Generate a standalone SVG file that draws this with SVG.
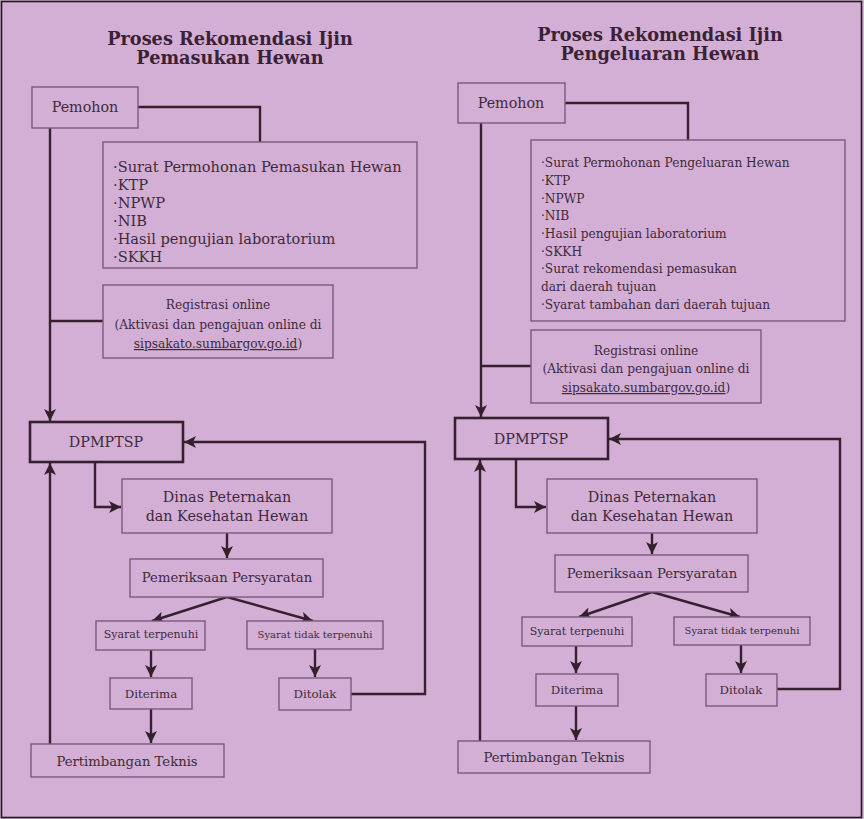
<svg xmlns="http://www.w3.org/2000/svg" width="864" height="819" viewBox="0 0 864 819">
<defs>
<marker id="ah" markerUnits="userSpaceOnUse" markerWidth="14" markerHeight="14" refX="12" refY="6" orient="auto">
<path d="M0,0 L12,6 L0,12 L3,6 z" fill="#33202d"/>
</marker>
<style>
.bg{fill:#d4afd5;}
.frame{fill:none;stroke:#1e1a1e;stroke-width:1.6;}
.box{fill:#d4afd5;stroke:#7a5a78;stroke-width:1.4;}
.boxb{fill:#d4afd5;stroke:#35202f;stroke-width:2.6;}
.ln{fill:none;stroke:#35202f;stroke-width:2.4;}
.ar{fill:none;stroke:#35202f;stroke-width:2.4;marker-end:url(#ah);}
text{font-family:"DejaVu Serif","Liberation Serif",serif;fill:#3d2a3b;}
.t{font-weight:bold;font-size:17.7px;text-anchor:middle;fill:#3a2236;}
.c{text-anchor:middle;}
.m{font-size:14.3px;}
.p{font-size:13.2px;}
.s{font-size:11px;}
.s2{font-size:10px;}
.r{font-size:12.2px;}
.d{font-size:11.8px;}
.l{font-size:14.6px;}
</style>
</defs>
<rect class="bg" x="0" y="0" width="864" height="819"/>
<rect class="frame" x="1.5" y="1.5" width="860" height="816"/>

<g id="title-left">
<text class="t" x="230" y="45">Proses Rekomendasi Ijin</text>
<text class="t" x="230" y="64">Pemasukan Hewan</text>
</g>
<g id="title-right">
<text class="t" x="660" y="41">Proses Rekomendasi Ijin</text>
<text class="t" x="660" y="60">Pengeluaran Hewan</text>
</g>

<g id="connectors">
<!-- left -->
<polyline class="ln" points="138,107 260,107 260,142"/>
<line class="ar" x1="50" y1="128" x2="50" y2="421"/>
<line class="ln" x1="50" y1="321" x2="103" y2="321"/>
<polyline class="ar" points="95,462 95,507 121,507"/>
<line class="ar" x1="227" y1="533" x2="227" y2="558"/>
<line class="ar" x1="227" y1="597" x2="152" y2="621"/>
<line class="ar" x1="227" y1="597" x2="313" y2="621"/>
<line class="ar" x1="151" y1="650" x2="151" y2="677"/>
<line class="ar" x1="315" y1="649" x2="315" y2="677"/>
<line class="ar" x1="151" y1="709" x2="151" y2="743"/>
<line class="ar" x1="50" y1="744" x2="50" y2="463"/>
<polyline class="ar" points="351,694 425,694 425,442 184,442"/>
<!-- right -->
<polyline class="ln" points="565,103 688,103 688,140"/>
<line class="ar" x1="481" y1="123" x2="481" y2="417"/>
<line class="ln" x1="481" y1="366" x2="531" y2="366"/>
<polyline class="ar" points="516,459 516,507 546,507"/>
<line class="ar" x1="652" y1="533" x2="652" y2="554"/>
<line class="ar" x1="652" y1="592" x2="579" y2="617"/>
<line class="ar" x1="652" y1="592" x2="740" y2="617"/>
<line class="ar" x1="576" y1="646" x2="576" y2="673"/>
<line class="ar" x1="741" y1="645" x2="741" y2="673"/>
<line class="ar" x1="576" y1="706" x2="576" y2="740"/>
<line class="ar" x1="480" y1="741" x2="480" y2="460"/>
<polyline class="ar" points="777,689 840,689 840,439 609,439"/>
</g>

<!-- left nodes -->
<g id="l-pemohon"><rect class="box" x="32" y="87" width="106" height="41"/><text class="c m" x="85" y="112">Pemohon</text></g>
<g id="l-syarat"><rect class="box" x="103" y="142" width="314" height="126"/>
<text class="l" x="113" y="172">·Surat Permohonan Pemasukan Hewan</text>
<text class="l" x="113" y="190">·KTP</text>
<text class="l" x="113" y="208">·NPWP</text>
<text class="l" x="113" y="226">·NIB</text>
<text class="l" x="113" y="244">·Hasil pengujian laboratorium</text>
<text class="l" x="113" y="262">·SKKH</text>
</g>
<g id="l-registrasi"><rect class="box" x="103" y="285" width="230" height="73"/>
<text class="c r" x="218" y="309">Registrasi online</text>
<text class="c r" x="218" y="329">(Aktivasi dan pengajuan online di</text>
<text class="c r" x="218" y="348"><tspan text-decoration="underline">sipsakato.sumbargov.go.id</tspan>)</text>
</g>
<g id="l-dpmptsp"><rect class="boxb" x="30" y="422" width="153" height="40"/><text class="c m" x="106" y="447">DPMPTSP</text></g>
<g id="l-dinas"><rect class="box" x="122" y="479" width="210" height="54"/>
<text class="c m" x="227" y="502">Dinas Peternakan</text>
<text class="c m" x="227" y="521">dan Kesehatan Hewan</text></g>
<g id="l-pemeriksaan"><rect class="box" x="130" y="559" width="193" height="38"/><text class="c p" x="227" y="582">Pemeriksaan Persyaratan</text></g>
<g id="l-terpenuhi"><rect class="box" x="96" y="621" width="109" height="29"/><text class="c s" x="151" y="638">Syarat terpenuhi</text></g>
<g id="l-tidak"><rect class="box" x="247" y="621" width="136" height="28"/><text class="c s2" x="315" y="638">Syarat tidak terpenuhi</text></g>
<g id="l-diterima"><rect class="box" x="110" y="678" width="82" height="31"/><text class="c d" x="151" y="698">Diterima</text></g>
<g id="l-ditolak"><rect class="box" x="279" y="678" width="72" height="32"/><text class="c d" x="315" y="698">Ditolak</text></g>
<g id="l-pertimbangan"><rect class="box" x="31" y="744" width="193" height="33"/><text class="c p" x="127" y="766">Pertimbangan Teknis</text></g>

<!-- right nodes -->
<g id="r-pemohon"><rect class="box" x="458" y="83" width="107" height="40"/><text class="c m" x="511" y="108">Pemohon</text></g>
<g id="r-syarat"><rect class="box" x="531" y="140" width="314" height="181"/>
<text class="r" x="541" y="167">·Surat Permohonan Pengeluaran Hewan</text>
<text class="r" x="541" y="185">·KTP</text>
<text class="r" x="541" y="203">·NPWP</text>
<text class="r" x="541" y="220">·NIB</text>
<text class="r" x="541" y="238">·Hasil pengujian laboratorium</text>
<text class="r" x="541" y="256">·SKKH</text>
<text class="r" x="541" y="273">·Surat rekomendasi pemasukan</text>
<text class="r" x="541" y="291">dari daerah tujuan</text>
<text class="r" x="541" y="309">·Syarat tambahan dari daerah tujuan</text>
</g>
<g id="r-registrasi"><rect class="box" x="531" y="330" width="230" height="73"/>
<text class="c r" x="646" y="355">Registrasi online</text>
<text class="c r" x="646" y="373">(Aktivasi dan pengajuan online di</text>
<text class="c r" x="646" y="392"><tspan text-decoration="underline">sipsakato.sumbargov.go.id</tspan>)</text>
</g>
<g id="r-dpmptsp"><rect class="boxb" x="455" y="418" width="153" height="41"/><text class="c m" x="531" y="444">DPMPTSP</text></g>
<g id="r-dinas"><rect class="box" x="547" y="479" width="210" height="54"/>
<text class="c m" x="652" y="502">Dinas Peternakan</text>
<text class="c m" x="652" y="521">dan Kesehatan Hewan</text></g>
<g id="r-pemeriksaan"><rect class="box" x="555" y="555" width="193" height="37"/><text class="c p" x="652" y="578">Pemeriksaan Persyaratan</text></g>
<g id="r-terpenuhi"><rect class="box" x="522" y="617" width="110" height="29"/><text class="c s" x="577" y="635">Syarat terpenuhi</text></g>
<g id="r-tidak"><rect class="box" x="674" y="617" width="136" height="28"/><text class="c s2" x="742" y="634">Syarat tidak terpenuhi</text></g>
<g id="r-diterima"><rect class="box" x="536" y="674" width="82" height="32"/><text class="c d" x="577" y="694">Diterima</text></g>
<g id="r-ditolak"><rect class="box" x="706" y="674" width="71" height="32"/><text class="c d" x="741" y="694">Ditolak</text></g>
<g id="r-pertimbangan"><rect class="box" x="458" y="741" width="192" height="32"/><text class="c p" x="554" y="762">Pertimbangan Teknis</text></g>
</svg>
